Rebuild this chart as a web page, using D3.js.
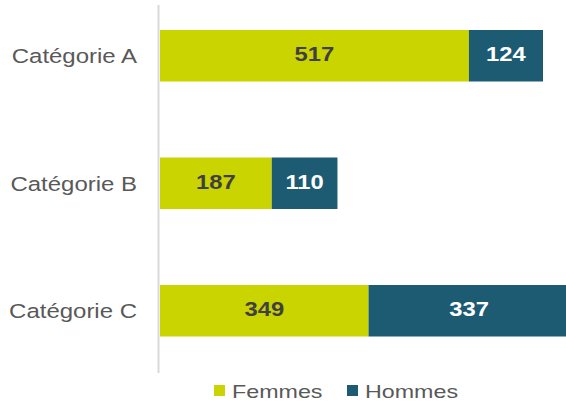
<!DOCTYPE html>
<html>
<head>
<meta charset="utf-8">
<script src="https://cdn.jsdelivr.net/npm/d3@7"></script>
<style>
  html, body { margin: 0; padding: 0; background: #fff; }
  svg { display: block; }
  text { font-family: "Liberation Sans", Arial, sans-serif; }
</style>
</head>
<body>
<svg id="chart" width="566" height="401"></svg>
<script>
// Stacked horizontal bars: women / men per category
const categories = ["Catégorie A", "Catégorie B", "Catégorie C"];
const femmes = [517, 187, 349];
const hommes = [124, 110, 337];
const seriesNames = ["Femmes", "Hommes"];
const seriesColors = ["#c9d400", "#1d5b73"];
const labelColors = ["#404040", "#ffffff"];

const svg = d3.select("#chart");

const x = d3.scaleLinear().domain([0, 700]).range([160, 160 + 700 * 0.5975]);
const y = d3.scaleBand().domain(categories).range([-8, 374.5])
  .paddingInner(0.596).paddingOuter(0.298);

const rows = categories.map((c, i) => ({ cat: c, values: [femmes[i], hommes[i]] }));
const stack = d3.stack().keys([0, 1]).value((d, k) => d.values[k]);
const layers = stack(rows);

// text helper with horizontal stretch
function stretched(g, x0, y0, sx, str) {
  return g.append("text")
    .attr("transform", `translate(${x0},${y0}) scale(${sx},1)`)
    .text(str);
}

// bars
layers.forEach((layer, k) => {
  const g = svg.append("g");
  g.selectAll("rect").data(layer).enter().append("rect")
    .attr("x", d => x(d[0]))
    .attr("y", (d, i) => y(categories[i]))
    .attr("width", d => x(d[1]) - x(d[0]))
    .attr("height", y.bandwidth())
    .attr("fill", seriesColors[k]);

  layer.forEach((d, i) => {
    const cx = (x(d[0]) + x(d[1])) / 2;
    const cy = y(categories[i]) + y.bandwidth() / 2;
    stretched(g, cx, cy + 5.5, 1.22, d.data.values[k])
      .attr("text-anchor", "middle")
      .attr("font-size", 19.5)
      .attr("font-weight", "bold")
      .attr("fill", labelColors[k]);
  });
});

// vertical axis line
svg.append("line")
  .attr("x1", 158.5).attr("x2", 158.5)
  .attr("y1", 5).attr("y2", 373)
  .attr("stroke", "#d9d9d9").attr("stroke-width", 2);

// category labels
const catG = svg.append("g");
categories.forEach(c => {
  stretched(catG, 137, y(c) + y.bandwidth() / 2 + 7.5, 1.17, c)
    .attr("text-anchor", "end")
    .attr("font-size", 20.5)
    .attr("fill", "#595959");
});

// legend
const legendX = [214, 347];
const leg = svg.append("g");
seriesNames.forEach((name, k) => {
  leg.append("rect")
    .attr("x", legendX[k]).attr("y", 385)
    .attr("width", 11).attr("height", 11)
    .attr("fill", seriesColors[k]);
  stretched(leg, legendX[k] + 18, 397.5, 1.33, name)
    .attr("font-size", 17.5)
    .attr("fill", "#595959");
});
</script>
</body>
</html>
